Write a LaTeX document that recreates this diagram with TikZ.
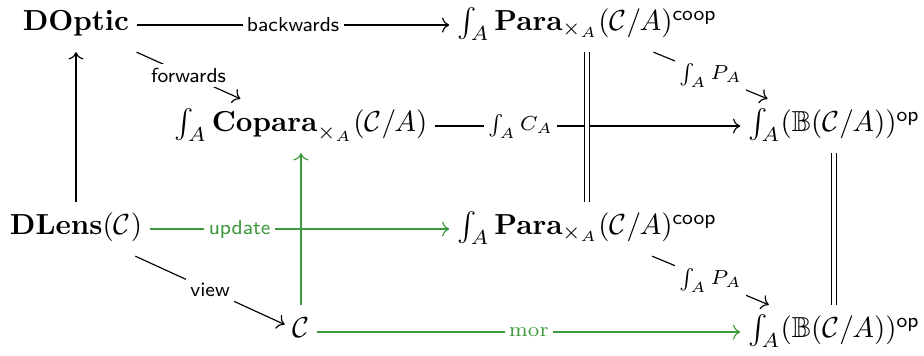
\documentclass[tikz,border=0pt]{standalone}
\usepackage{amsmath,amssymb}
\usetikzlibrary{arrows.meta}
\definecolor{lensgreen}{RGB}{62,152,62}

\begin{document}
\begin{tikzpicture}[x=0.345pt,y=-0.345pt,
  obj/.style={inner sep=2.5pt,text height=2ex,text depth=1.1ex},
  map/.style={-{Computer Modern Rightarrow},line width=0.4pt},
  eq/.style={double,double distance=1.5pt,line width=0.4pt},
  lbl/.style={fill=white,inner sep=1.5pt,font=\scriptsize,anchor=center}]
\useasboundingbox(0,0)rectangle(924,355);
% back square
\node[obj](dop)at(76,25){$\mathbf{DOptic}$};
\node[obj](paraT)at(587,25){$\int_A\mathbf{Para}_{\times_A}(\mathcal{C}/A)^{\mathsf{coop}}$};
\node[obj](dlens)at(76,229){$\mathbf{DLens}(\mathcal{C})$};
\node[obj](paraB)at(587,229){$\int_A\mathbf{Para}_{\times_A}(\mathcal{C}/A)^{\mathsf{coop}}$};
% front square
\node[obj](cop)at(301,126){$\int_A\mathbf{Copara}_{\times_A}(\mathcal{C}/A)$};
\node[obj](bopT)at(834,126){$\int_A(\mathbb{B}(\mathcal{C}/A))^{\mathsf{op}}$};
\node[obj](cC)at(301,332){$\mathcal{C}$};
\node[obj](bopB)at(834,332){$\int_A(\mathbb{B}(\mathcal{C}/A))^{\mathsf{op}}$};
% arrows
\draw[map](dop)--(paraT)node[lbl,midway]{\textsf{backwards}};
\draw[map](dop)--(cop)node[lbl,midway]{\textsf{forwards}};
\draw[map](paraT)--(bopT)node[lbl,midway]{$\int_A P_A$};
\draw[map](cop)--(bopT)node[lbl,pos=0.28]{$\int_A C_A$};
\draw[eq](paraT)--(paraB);
\draw[eq](bopT)--(bopB);
\draw[map](dlens)--(dop);
\draw[map](dlens)--(cC)node[lbl,midway]{\textsf{view}};
\draw[map](paraB)--(bopB)node[lbl,midway]{$\int_A P_A$};
\draw[map,color=lensgreen](dlens)--(paraB)
  node[lbl,pos=0.3,text=lensgreen]{\textsf{update}};
\draw[map,color=lensgreen](cC)--(cop);
\draw[map,color=lensgreen](cC)--(bopB)
  node[lbl,midway,text=lensgreen]{$\mathrm{mor}$};
\end{tikzpicture}
\end{document}
